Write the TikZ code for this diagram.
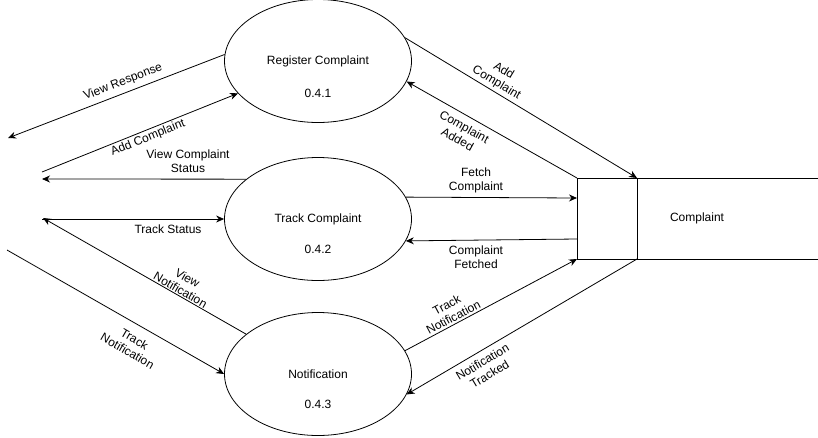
\documentclass[tikz,border=0pt]{standalone}
\usepackage{fontspec}
\setmainfont{Liberation Sans}
\usetikzlibrary{shapes.geometric,arrows.meta}
\tikzset{
  proc/.style={draw,ellipse,line width=0.8pt,minimum width=187pt,minimum height=123pt,inner sep=0pt},
  dstore/.style={draw,line width=0.8pt,minimum width=60pt,minimum height=81pt,inner sep=0pt,outer sep=0pt},
  flow/.style={line width=0.8pt,-{Stealth[length=8pt,width=7pt]}},
  lbl/.style={align=center,inner sep=1pt},
}
\begin{document}
\begin{tikzpicture}[x=1pt,y=-1pt,font=\fontsize{12}{14}\selectfont]
\useasboundingbox (0,0) rectangle (818,437);
% processes
\node[proc] (reg) at (318,61) {Register Complaint};
\node[proc] (trk) at (318,219) {Track Complaint};
\node[proc] (ntf) at (318,374) {Notification};
\node (reg-no) at ([yshift=-32pt]reg.center) {0.4.1};
\node (trk-no) at ([yshift=-30pt]trk.center) {0.4.2};
\node (ntf-no) at ([yshift=-30pt]ntf.center) {0.4.3};
% data store
\node[dstore] (store) at (607,218.5) {};
\coordinate (store-t) at (818,178);
\coordinate (store-b) at (818,259);
\draw[line width=0.8pt] (store.north east) -- (store-t) (store.south east) -- (store-b);
\node (store-lbl) at (697,218) {Complaint};
% free ends on the left
\coordinate (resp-end) at (8,138);
\coordinate (add-start) at (42,172);
\coordinate (stat-end) at (42,179);
\coordinate (tstat-start) at (42,219);
\coordinate (vnot-end) at (43,218);
\coordinate (tnot-start) at (7,250);
% flows
\draw[flow] (reg.176) -- (resp-end);
\draw[flow] (add-start) -- (reg.202);
\draw[flow] (trk.151) -- (stat-end);
\draw[flow] (tstat-start) -- (trk.180);
\draw[flow] (ntf.151) -- (vnot-end);
\draw[flow] (tnot-start) -- (ntf.180);
\draw[flow] (reg.15) -- (store.north east);
\draw[flow] (store.north west) -- (reg.347);
\draw[flow] (trk.14) -- ([yshift=20.5pt]store.west);
\draw[flow] ([yshift=-20.5pt]store.west) -- (trk.346);
\draw[flow] (ntf.15) -- (store.south west);
\draw[flow] (store.south east) -- (ntf.347);
% labels
\node[lbl,rotate=21] (l-resp) at (123,82) {View Response};
\node[lbl,rotate=22] (l-add) at (148,138) {Add Complaint};
\node[lbl] (l-stat) at (188,161) {View Complaint\\Status};
\node[lbl] (l-tstat) at (168,229) {Track Status};
\node[lbl,rotate=-30] (l-vnot) at (184,284) {View\\Notification};
\node[lbl,rotate=-30] (l-tnot) at (131,345) {Track\\Notification};
\node[lbl,rotate=-31] (l-add2) at (500,77) {Add\\Complaint};
\node[lbl,rotate=-29] (l-added) at (461,133) {Complaint\\Added};
\node[lbl] (l-fetch) at (476,180) {Fetch\\Complaint};
\node[lbl] (l-fetched) at (476,257) {Complaint\\Fetched};
\node[lbl,rotate=28] (l-tnot2) at (450,311) {Track\\Notification};
\node[lbl,rotate=31] (l-tracked) at (486,368) {Notification\\Tracked};
\end{tikzpicture}
\end{document}
